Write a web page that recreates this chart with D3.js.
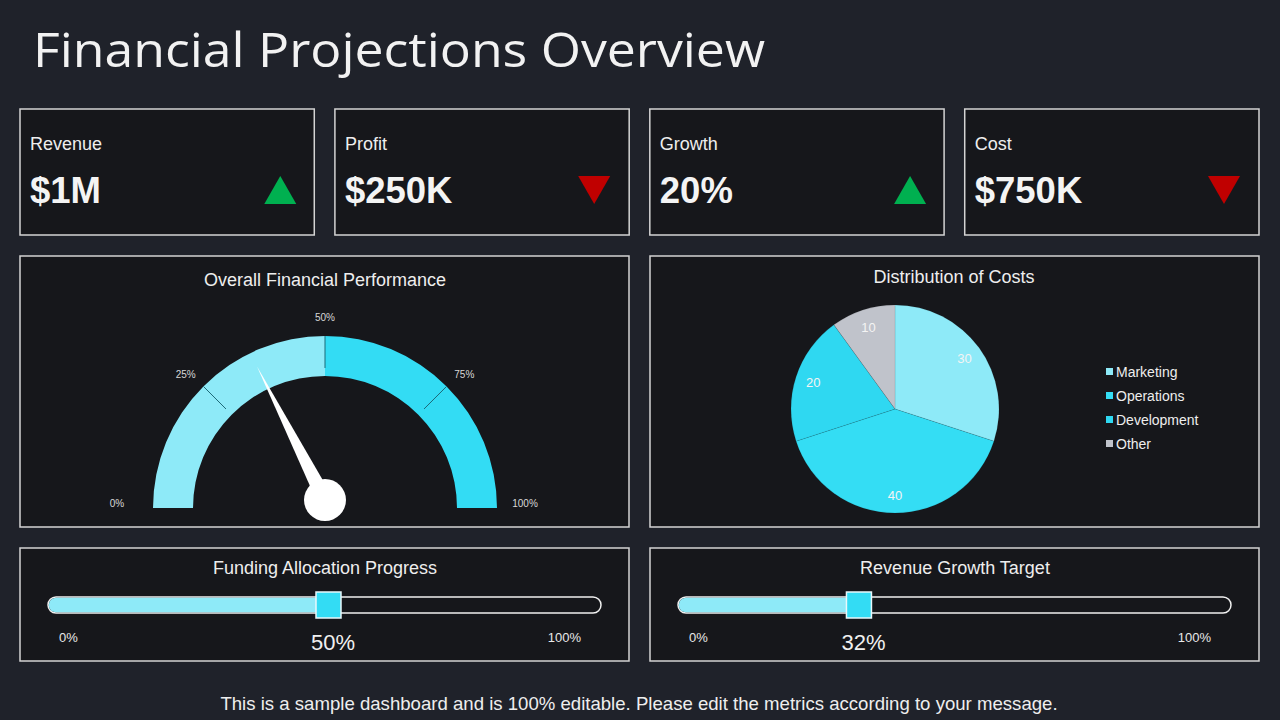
<!DOCTYPE html>
<html>
<head>
<meta charset="utf-8">
<script src="https://cdn.jsdelivr.net/npm/d3@7"></script>
<style>
  body { margin: 0; background: #1f222a; }
  text { font-family: "Liberation Sans", Arial, sans-serif; }
</style>
</head>
<body>
<div id="dash"></div>
<script>
// ---- data ----
const kpiLabels = ["Revenue", "Profit", "Growth", "Cost"];
const kpiValues = ["$1M", "$250K", "20%", "$750K"];
const kpiTrend = ["up", "down", "up", "down"];

const gaugeValue = 0.35;
const gaugeBands = [[0, 0.5], [0.5, 1]];
const gaugeTicks = [0, 0.25, 0.5, 0.75, 1];
const gaugeTickLabels = ["0%", "25%", "50%", "75%", "100%"];

const costCategories = ["Marketing", "Operations", "Development", "Other"];
const costValues = [30, 40, 20, 10];

const sliderTitles = ["Funding Allocation Progress", "Revenue Growth Target"];
const sliderValues = [50, 32];

// ---- colours ----
const light = "#8eeaf8", cyan = "#33dcf4";
const panelFill = "#16171b", panelStroke = "#d4d4d4";

let width = 1280, height = 720;
let svg = d3.select("#dash").append("svg")
    .attr("width", width)
    .attr("height", height);

// title
svg.append("text")
    .attr("x", 33).attr("y", 67)
    .attr("textLength", 732).attr("lengthAdjust", "spacingAndGlyphs")
    .style("font-family", "'Segoe Print', 'Comic Sans MS', 'Open Sans', sans-serif")
    .style("font-size", "48px")
    .attr("fill", "#f2f2f2")
    .text("Financial Projections Overview");

function panel(x, y, w, h) {
    svg.append("rect")
        .attr("x", x).attr("y", y).attr("width", w).attr("height", h)
        .attr("fill", panelFill).attr("stroke", panelStroke).attr("stroke-width", 1.5);
}

// ---- KPI cards ----
let cardX = d3.scaleBand().domain(d3.range(4)).range([20, 1259]).paddingInner(0.0655);
kpiLabels.forEach(function(lab, i) {
    let x = cardX(i), w = cardX.bandwidth();
    panel(x, 109, w, 126);
    svg.append("text").attr("x", x + 10).attr("y", 150)
        .attr("fill", "#eeeeee").style("font-size", "18px").text(lab);
    svg.append("text").attr("x", x + 10).attr("y", 203)
        .attr("fill", "#f4f4f4").style("font-size", "36.5px").style("font-weight", "bold")
        .text(kpiValues[i]);
    let cx = x + w - 34, up = kpiTrend[i] === "up";
    if (!up) cx -= 1;
    let pts = up ? [[cx - 16, 204], [cx + 16, 204], [cx, 176]]
                 : [[cx - 16, 176], [cx + 16, 176], [cx, 204]];
    svg.append("path").attr("d", d3.line()(pts) + "Z")
        .attr("fill", up ? "#00b050" : "#c00000");
});

// ---- gauge ----
panel(20, 256, 609, 271);
svg.append("text").attr("x", 325).attr("y", 286).attr("text-anchor", "middle")
    .attr("fill", "#eeeeee").style("font-size", "18px").text("Overall Financial Performance");

let gx = 325, gy = 508, rIn = 132, rOut = 172;
let angle = d3.scaleLinear().domain([0, 1]).range([-Math.PI / 2, Math.PI / 2]);
let gauge = svg.append("g").attr("transform", "translate(" + gx + "," + gy + ")");
let arc = d3.arc().innerRadius(rIn).outerRadius(rOut);
gauge.selectAll(".band").data(gaugeBands).join("path")
    .attr("d", function(d) { return arc({startAngle: angle(d[0]), endAngle: angle(d[1])}); })
    .attr("fill", function(d, i) { return i === 0 ? light : cyan; });
gauge.selectAll(".tick").data(gaugeTicks.slice(1, 4)).join("line")
    .attr("x1", function(d) { return (rIn + 8) * Math.sin(angle(d)); })
    .attr("y1", function(d) { return -(rIn + 8) * Math.cos(angle(d)); })
    .attr("x2", function(d) { return rOut * Math.sin(angle(d)); })
    .attr("y2", function(d) { return -rOut * Math.cos(angle(d)); })
    .attr("stroke", "#1d6a78").attr("stroke-width", 1);
gauge.selectAll(".lbl").data(gaugeTicks).join("text")
    .attr("x", function(d) {
        let ends = d === 0 || d === 1;
        return (ends ? 204 : 197) * Math.sin(angle(d)) - (ends ? 4 : 0);
    })
    .attr("y", function(d) {
        let ends = d === 0 || d === 1;
        return -197 * Math.cos(angle(d)) + (ends ? -5 : 6);
    })
    .attr("text-anchor", "middle").attr("dy", "0.35em")
    .attr("fill", "#d8d8d8").style("font-size", "10px")
    .text(function(d, i) { return gaugeTickLabels[i]; });

// needle
let a = angle(gaugeValue), len = 150, bw = 8;
let px = 0, py = -8;
let tip = [px + len * Math.sin(a), py - len * Math.cos(a)];
let b1 = [px + bw * Math.cos(a), py + bw * Math.sin(a)];
let b2 = [px - bw * Math.cos(a), py - bw * Math.sin(a)];
gauge.append("path").attr("d", d3.line()([b1, tip, b2]) + "Z").attr("fill", "#ffffff");
gauge.append("circle").attr("cx", px).attr("cy", py).attr("r", 21).attr("fill", "#ffffff");

// ---- pie ----
panel(650, 256, 609, 271);
svg.append("text").attr("x", 954).attr("y", 283).attr("text-anchor", "middle")
    .attr("fill", "#eeeeee").style("font-size", "18px").text("Distribution of Costs");

let pieColors = d3.scaleOrdinal().domain(costCategories)
    .range([light, "#34ddf4", "#2fd8f1", "#c0c3cb"]);
let pie = d3.pie().sort(null).value(function(d) { return d; });
let slices = pie(costValues);
let pieR = 104;
let pieG = svg.append("g").attr("transform", "translate(895,409)");
pieG.selectAll("path").data(slices).join("path")
    .attr("d", d3.arc().innerRadius(0).outerRadius(pieR))
    .attr("fill", function(d, i) { return pieColors(costCategories[i]); })
    .attr("stroke", "rgba(0,0,0,0.12)").attr("stroke-width", 0.7);
let labelArc = d3.arc().innerRadius(86).outerRadius(86);
pieG.selectAll("text").data(slices).join("text")
    .attr("transform", function(d) { return "translate(" + labelArc.centroid(d) + ")"; })
    .attr("text-anchor", "middle").attr("dy", "0.35em")
    .attr("fill", "#f4f4f4").style("font-size", "13px")
    .text(function(d) { return d.data; });

let legY = d3.scalePoint().domain(costCategories).range([372, 444]);
let leg = svg.append("g");
leg.selectAll("rect").data(costCategories).join("rect")
    .attr("x", 1106).attr("y", function(d) { return legY(d) - 4; })
    .attr("width", 7).attr("height", 7)
    .attr("fill", function(d) { return pieColors(d); });
leg.selectAll("text").data(costCategories).join("text")
    .attr("x", 1116).attr("y", function(d) { return legY(d); }).attr("dy", "0.35em")
    .attr("fill", "#eeeeee").style("font-size", "14px")
    .text(function(d) { return d; });

// ---- sliders ----
[20, 650].forEach(function(x0, i) {
    panel(x0, 548, 609, 113);
    svg.append("text").attr("x", x0 + 305).attr("y", 574).attr("text-anchor", "middle")
        .attr("fill", "#eeeeee").style("font-size", "18px").text(sliderTitles[i]);
    let xs = d3.scaleLinear().domain([0, 100]).range([x0 + 28, x0 + 581]);
    let v = sliderValues[i];
    let hx = xs(v) + 4;
    svg.append("rect").attr("x", xs(0)).attr("y", 597).attr("width", xs(100) - xs(0)).attr("height", 16)
        .attr("rx", 8).attr("fill", panelFill).attr("stroke", "#f0f0f0").attr("stroke-width", 1.5);
    svg.append("rect").attr("x", xs(0) + 0.75).attr("y", 597.75).attr("width", hx - xs(0))
        .attr("height", 14.5).attr("rx", 7.5).attr("fill", light);
    svg.append("rect").attr("x", hx - 12.5).attr("y", 592).attr("width", 25).attr("height", 26)
        .attr("fill", cyan).attr("stroke", "#e8f8fb").attr("stroke-width", 1.5);
    svg.append("text").attr("x", x0 + 39).attr("y", 642)
        .attr("fill", "#e8e8e8").style("font-size", "13px").text("0%");
    svg.append("text").attr("x", x0 + 561).attr("y", 642).attr("text-anchor", "end")
        .attr("fill", "#e8e8e8").style("font-size", "13px").text("100%");
    svg.append("text").attr("x", hx + 4.5).attr("y", 650).attr("text-anchor", "middle")
        .attr("fill", "#f0f0f0").style("font-size", "22px").text(v + "%");
});

// footer
svg.append("text").attr("x", 639).attr("y", 710).attr("text-anchor", "middle")
    .attr("fill", "#eeeeee").style("font-size", "18.6px")
    .text("This is a sample dashboard and is 100% editable. Please edit the metrics according to your message.");
</script>
</body>
</html>
